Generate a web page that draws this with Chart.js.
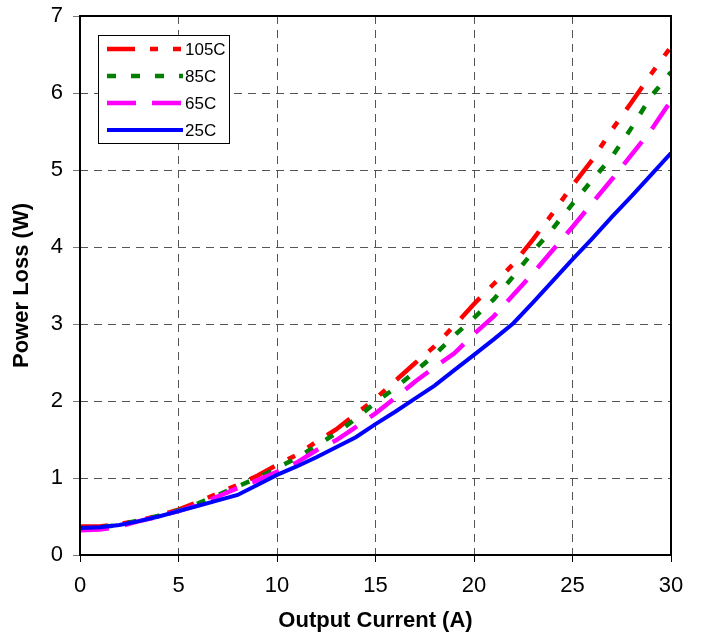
<!DOCTYPE html>
<html>
<head>
<meta charset="utf-8">
<script src="https://cdn.jsdelivr.net/npm/chart.js@4.4.1/dist/chart.umd.min.js"></script>
<style>
  html, body { margin: 0; padding: 0; background: #fff; }
  #wrap { width: 703px; height: 636px; }
</style>
</head>
<body>
<div id="wrap"><canvas id="lossChart"></canvas></div>
<script>
// Output current (A)
const current = [0, 1, 2, 3, 4, 5, 6, 7, 8, 9, 10, 11, 12, 13, 14, 15, 16, 17, 18, 19, 20, 21, 22, 23, 24, 25, 26, 27, 28, 29, 30];
// Power loss (W) per temperature
const loss105 = [0.37, 0.37, 0.40, 0.45, 0.51, 0.59, 0.69, 0.80, 0.91, 1.03, 1.17, 1.30, 1.47, 1.63, 1.83, 2.03, 2.26, 2.49, 2.71, 2.98, 3.26, 3.52, 3.78, 4.10, 4.44, 4.80, 5.13, 5.52, 5.88, 6.25, 6.60];
const loss85 = [0.34, 0.36, 0.39, 0.45, 0.51, 0.58, 0.67, 0.78, 0.89, 1.00, 1.13, 1.26, 1.42, 1.58, 1.77, 1.98, 2.17, 2.38, 2.60, 2.85, 3.08, 3.32, 3.62, 3.94, 4.24, 4.56, 4.87, 5.17, 5.55, 5.96, 6.27];
const loss65 = [0.32, 0.33, 0.37, 0.44, 0.50, 0.57, 0.65, 0.76, 0.87, 0.97, 1.08, 1.20, 1.36, 1.49, 1.66, 1.84, 2.04, 2.25, 2.44, 2.62, 2.87, 3.10, 3.38, 3.66, 3.96, 4.26, 4.57, 4.88, 5.20, 5.52, 5.90];
const loss25 = [0.35, 0.36, 0.39, 0.44, 0.50, 0.57, 0.64, 0.71, 0.78, 0.91, 1.04, 1.15, 1.27, 1.40, 1.53, 1.70, 1.86, 2.03, 2.20, 2.40, 2.60, 2.80, 3.01, 3.28, 3.56, 3.84, 4.11, 4.39, 4.66, 4.94, 5.22];
const seriesNames = ["105C", "85C", "65C", "25C"];

const FONT = "'Liberation Sans', Arial, sans-serif";

function pts(ys) {
  return current.map((x, i) => ({ x: x, y: ys[i] }));
}

// frame around the plot + legend box in the upper left
const framePlugin = {
  id: "frame",
  afterDraw(chart) {
    const { ctx, chartArea: a } = chart;
    ctx.save();
    ctx.strokeStyle = "#000";
    ctx.lineWidth = 2;
    ctx.setLineDash([]);
    ctx.strokeRect(a.left, a.top, a.right - a.left, a.bottom - a.top);

    // legend
    const bx = 98, by = 35, bw = 131, bh = 108;
    ctx.fillStyle = "#fff";
    ctx.fillRect(bx, by, bw, bh);
    ctx.lineWidth = 1;
    ctx.strokeRect(bx + 0.5, by + 0.5, bw, bh);
    chart.data.datasets.forEach((ds, i) => {
      const y = 49 + i * 27;
      ctx.beginPath();
      ctx.strokeStyle = ds.borderColor;
      ctx.lineWidth = ds.borderWidth;
      ctx.lineCap = "butt";
      ctx.setLineDash(ds.borderDash || []);
      ctx.moveTo(107, y);
      ctx.lineTo(183, y);
      ctx.stroke();
      ctx.setLineDash([]);
      ctx.fillStyle = "#000";
      ctx.font = "17px " + FONT;
      ctx.textBaseline = "middle";
      ctx.textAlign = "left";
      ctx.fillText(ds.label, 185, y + 1);
    });
    ctx.restore();
  },
};

const ctx = document.getElementById("lossChart").getContext("2d");
const lossChart = new Chart(ctx, {
  type: "line",
  data: {
    datasets: [
      {
        label: seriesNames[0],
        data: pts(loss105),
        borderColor: "#FF0000",
        borderWidth: 4.5,
        borderDash: [28, 15, 8, 15, 8, 15],
        order: 4,
      },
      {
        label: seriesNames[1],
        data: pts(loss85),
        borderColor: "#008000",
        borderWidth: 4.5,
        borderDash: [9, 15],
        order: 3,
      },
      {
        label: seriesNames[2],
        data: pts(loss65),
        borderColor: "#FF00FF",
        borderWidth: 4.5,
        borderDash: [29, 16],
        order: 2,
      },
      {
        label: seriesNames[3],
        data: pts(loss25),
        borderColor: "#0000FF",
        borderWidth: 4,
        order: 1,
      },
    ],
  },
  options: {
    responsive: true,
    maintainAspectRatio: false,
    animation: false,
    layout: { padding: { left: 0, right: 32, top: 16, bottom: 0 } },
    elements: {
      point: { radius: 0 },
      line: { tension: 0, fill: false },
    },
    scales: {
      x: {
        type: "linear",
        min: 0,
        max: 30,
        ticks: {
          stepSize: 5,
          color: "#000",
          padding: 11,
          font: { family: FONT, size: 22 },
        },
        grid: { color: "#555", lineWidth: 1, tickLength: 7, tickColor: "#000" },
        border: { display: false, dash: [8, 6] },
        title: {
          display: true,
          text: "Output Current (A)",
          color: "#000",
          font: { family: FONT, size: 22, weight: "bold" },
          padding: { top: 0, bottom: 2 },
        },
        afterFit(scale) {
          scale.height = 81;
          scale.paddingLeft = 0;
          scale.paddingRight = 0;
        },
      },
      y: {
        min: 0,
        max: 7,
        ticks: {
          stepSize: 1,
          color: "#000",
          padding: 10,
          font: { family: FONT, size: 22 },
        },
        grid: { color: "#555", lineWidth: 1, tickLength: 7, tickColor: "#777" },
        border: { display: false, dash: [8, 6] },
        title: {
          display: true,
          text: "Power Loss (W)",
          color: "#000",
          font: { family: FONT, size: 22, weight: "bold" },
          padding: { top: 9, bottom: 0 },
        },
        afterFit(scale) {
          scale.width = 80;
          scale.paddingTop = 0;
          scale.paddingBottom = 0;
        },
      },
    },
    plugins: {
      legend: { display: false },
      tooltip: { enabled: false },
    },
  },
  plugins: [framePlugin],
});
</script>
</body>
</html>
